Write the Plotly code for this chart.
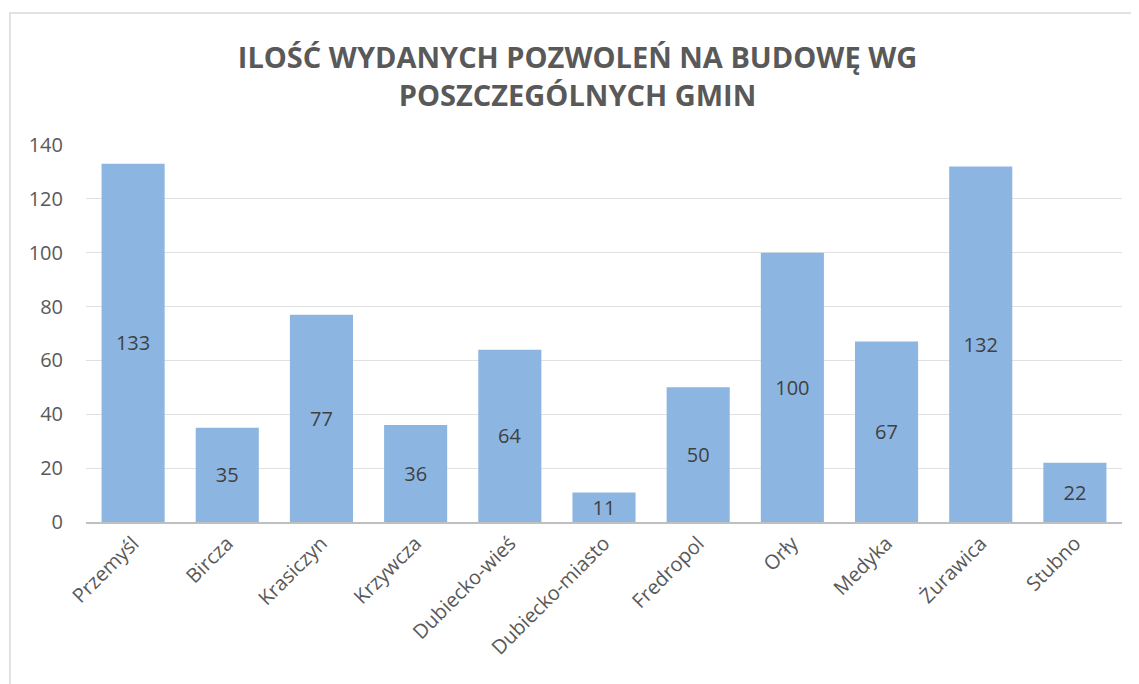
import plotly.graph_objects as go

categories = ["Przemyśl", "Bircza", "Krasiczyn", "Krzywcza", "Dubiecko-wieś",
              "Dubiecko-miasto", "Fredropol", "Orły", "Medyka", "Żurawica", "Stubno"]
values = [133, 35, 77, 36, 64, 11, 50, 100, 67, 132, 22]
y_ticks = [0, 20, 40, 60, 80, 100, 120, 140]

title_text = "ILOŚĆ WYDANYCH POZWOLEŃ NA BUDOWĘ WG<br>POSZCZEGÓLNYCH GMIN"

fig = go.Figure(go.Bar(
    x=categories, y=values,
    text=[str(v) for v in values],
    textposition="inside", insidetextanchor="middle", textangle=0,
    constraintext="none",
    textfont=dict(family="Open Sans", size=20, color="#404040"),
    marker=dict(color="#8CB6E1", line=dict(width=0)),
    width=0.67,
    cliponaxis=False,
))

fig.update_layout(
    width=1139, height=684,
    margin=dict(l=78, r=25, t=137, b=170),
    paper_bgcolor="white", plot_bgcolor="white",
    title=dict(text=title_text, x=0.5, xanchor="center", y=0.912, yanchor="middle",
               font=dict(family="Open Sans", size=29, color="#595959", weight="bold")),
    showlegend=False,
    uniformtext=dict(mode=False),
    shapes=[dict(type="rect", xref="paper", yref="paper",
                 x0=-0.0734, x1=1.2, y0=-0.6, y1=1.350,
                 line=dict(color="#D9D9D9", width=1.5), fillcolor="rgba(0,0,0,0)", layer="below")],
)
fig.update_yaxes(range=[0, 140], tickvals=y_ticks, showgrid=True, gridcolor="#E0E0E0", gridwidth=1,
                 zeroline=False, showline=False, ticks="", ticklabelstandoff=22,
                 tickfont=dict(family="Open Sans", size=20, color="#595959"))
fig.update_xaxes(tickangle=-45, showline=True, linecolor="#BFBFBF", linewidth=1.5,
                 ticks="", tickfont=dict(family="Open Sans", size=20, color="#595959"))

fig.write_html("out.html")
